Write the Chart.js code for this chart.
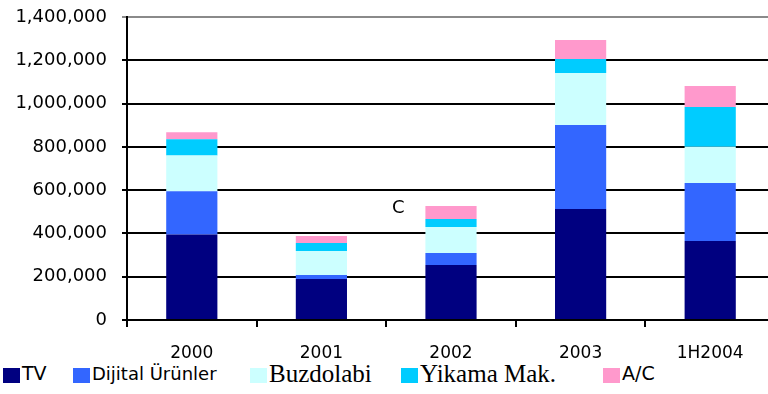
<!DOCTYPE html>
<html>
<head>
<meta charset="utf-8">
<script src="https://cdn.jsdelivr.net/npm/chart.js@4/dist/chart.umd.min.js"></script>
<style>
  html, body { margin: 0; padding: 0; background: #fff; overflow: hidden; }
  #wrap { position: relative; width: 775px; height: 394px; }
  #legend { position: absolute; left: 0; top: 359px; width: 768px; height: 35px; background: #fff; }
  .item { position: absolute; top: 0; height: 35px; }
  .sw { position: absolute; top: 9px; width: 17px; height: 15px; }
  .lt { position: absolute; white-space: nowrap; color: #000; }
  #note { position: absolute; left: 392px; top: 196px; font: 18px "DejaVu Sans", sans-serif; color: #000; }
</style>
</head>
<body>
<div id="wrap">
  <canvas id="c" width="775" height="394"></canvas>
  <div id="note">C</div>
  <div id="legend"></div>
</div>
<script>
// Units sold per product group, stacked by year
const categories = ['2000', '2001', '2002', '2003', '1H2004'];
const seriesNames = ['TV', 'Dijital Ürünler', 'Buzdolabi', 'Yikama Mak.', 'A/C'];
const tv        = [395000, 189000, 254000, 513000, 365000];
const dijital   = [200000,  19000,  56000, 388000, 268000];
const buzdolabi = [165000, 111000, 120000, 240000, 167000];
const yikama    = [ 75000,  37000,  37000,  65000, 184000];
const ac        = [ 33000,  32000,  60000,  88000,  97000];
const yTicks = [0, 200000, 400000, 600000, 800000, 1000000, 1200000, 1400000];

const colors = ['#000080', '#3366FF', '#CCFFFF', '#00CCFF', '#FF99CC'];
const values = [tv, dijital, buzdolabi, yikama, ac];

// legend entries: swatch left, text font
const legendLayout = [
  { left: 3,   font: '19px "DejaVu Sans", sans-serif', top: 3 },
  { left: 73,  font: '18px "DejaVu Sans", sans-serif', top: 4 },
  { left: 250, font: '25px "Liberation Serif", serif', top: 1 },
  { left: 401, font: '25px "Liberation Serif", serif', top: 1 },
  { left: 603, font: '19px "DejaVu Sans", sans-serif', top: 3 }
];

const datasets = seriesNames.map((name, i) => ({
  label: name,
  data: values[i],
  backgroundColor: colors[i],
  borderWidth: 0,
  barPercentage: 0.79,
  categoryPercentage: 0.5
}));

const fmt = v => v.toLocaleString('en-US');

new Chart(document.getElementById('c'), {
  type: 'bar',
  data: { labels: categories, datasets },
  options: {
    responsive: false,
    animation: false,
    layout: { padding: { top: 17, right: 0, left: 0, bottom: 0 } },
    plugins: { legend: { display: false }, tooltip: { enabled: false } },
    scales: {
      x: {
        stacked: true,
        offset: true,
        afterFit: s => { s.height = 74; s.paddingLeft = 0; s.paddingRight = 0; },
        grid: { offset: true, drawOnChartArea: false, drawTicks: true, tickLength: 7, color: '#000', lineWidth: 2 },
        border: { display: true, color: '#000', width: 2 },
        ticks: { color: '#000', font: { family: 'DejaVu Sans', size: 17 }, padding: 16 }
      },
      y: {
        stacked: true,
        min: 0,
        max: 1400000,
        afterFit: s => { s.width = 127; s.paddingTop = 0; s.paddingBottom = 0; },
        afterBuildTicks: s => { s.ticks = yTicks.map(v => ({ value: v })); },
        grid: {
          color: ctx => (ctx.tick && ctx.tick.value === 1400000) ? '#8a8a8a' : '#000',
          lineWidth: 2,
          tickLength: 5,
          drawTicks: true
        },
        border: { display: true, color: '#000', width: 2 },
        ticks: {
          color: '#000',
          font: { family: 'DejaVu Sans', size: 18 },
          padding: 15,
          callback: v => fmt(v)
        }
      }
    }
  }
});

// HTML legend built from the series definitions
const legend = document.getElementById('legend');
seriesNames.forEach((name, i) => {
  const item = document.createElement('div');
  item.className = 'item';
  item.style.left = legendLayout[i].left + 'px';
  const sw = document.createElement('div');
  sw.className = 'sw';
  sw.style.left = '0px';
  sw.style.background = colors[i];
  const t = document.createElement('div');
  t.className = 'lt';
  t.style.left = '19px';
  t.style.top = legendLayout[i].top + 'px';
  t.style.font = legendLayout[i].font;
  t.textContent = name;
  item.appendChild(sw);
  item.appendChild(t);
  legend.appendChild(item);
});
</script>
</body>
</html>
